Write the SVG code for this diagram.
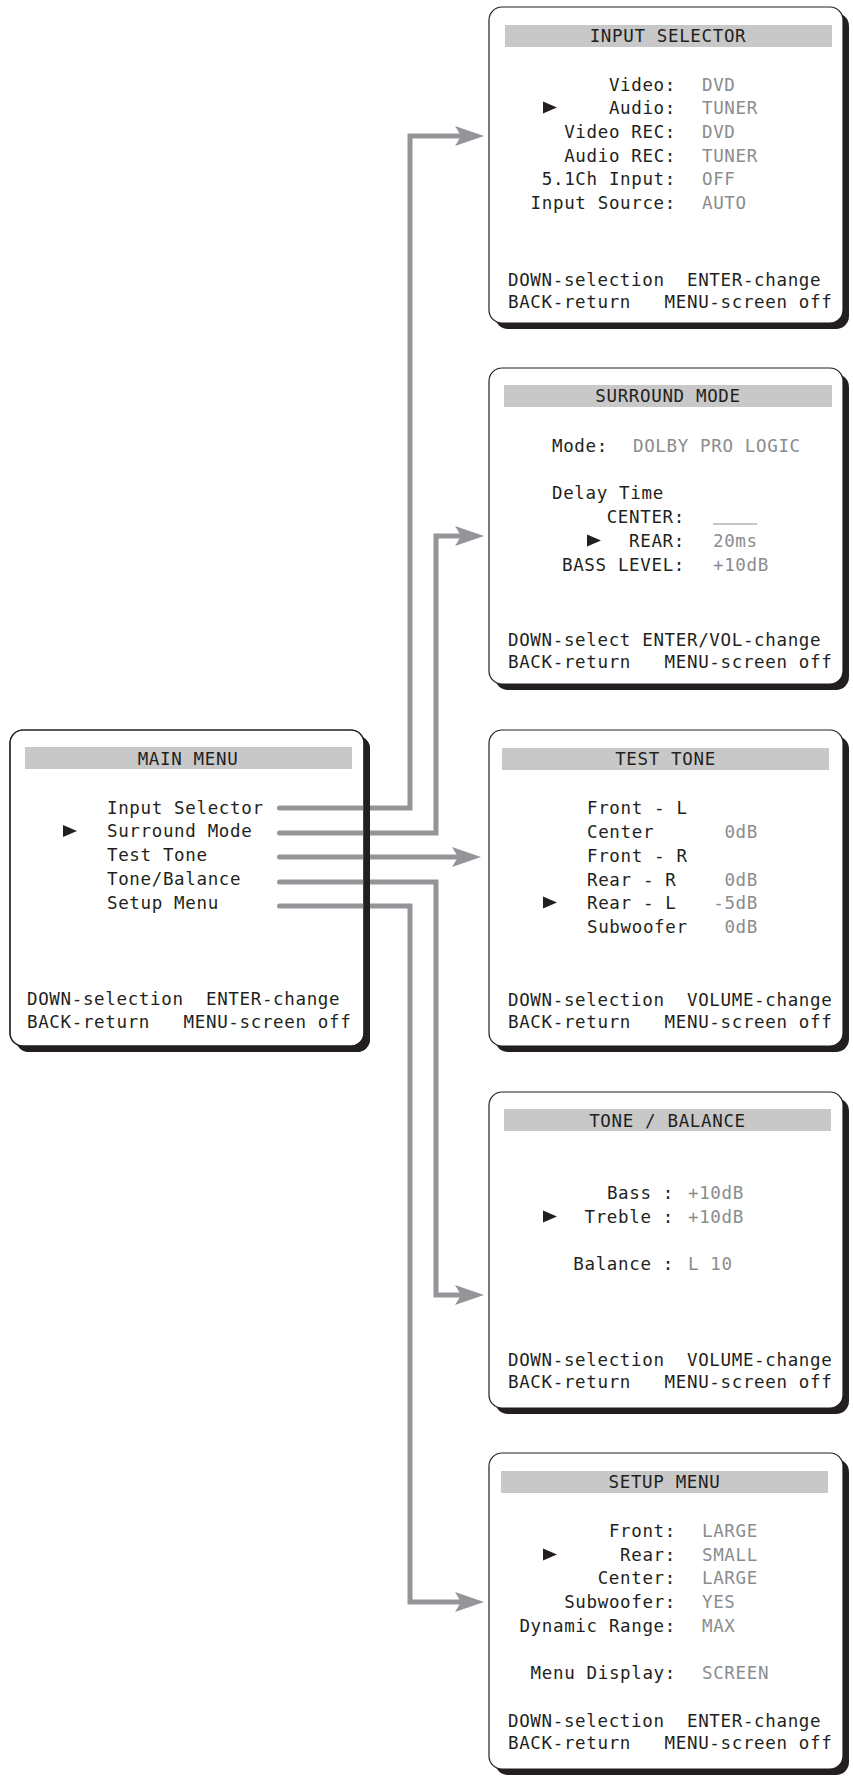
<svg xmlns="http://www.w3.org/2000/svg" xmlns:xlink="http://www.w3.org/1999/xlink" width="853" height="1777" viewBox="0 0 853 1777">
<style>
.shadow{fill:#231f20}
.panel{fill:#fff;stroke:#231f20;stroke-width:1.2}
.frame{fill:none;stroke:#231f20;stroke-width:1.2}
.bar{fill:#c8c8c8}
text{font-family:"DejaVu Sans Mono","Liberation Mono",monospace;font-size:17.5px;letter-spacing:0.65px;fill:#231f20}
.t{text-anchor:middle}
.r{text-anchor:end}
.v{fill:#8a8c8e}
.bullet{fill:#231f20}
.conn{fill:none;stroke:#939598;stroke-width:5;stroke-linecap:round;stroke-linejoin:miter;marker-end:url(#arrow)}
</style>
<defs>
<marker id="arrow" markerUnits="userSpaceOnUse" markerWidth="30" markerHeight="22" viewBox="0 0 30 22" refX="6" refY="11" orient="auto">
<path d="M0,1 L29,11 L0,21 L6,11 Z" fill="#939598"/>
</marker>
<path id="bul" d="M0,-6 L14,0 L0,6 Z"/>
<mask id="mainShadowMask" maskUnits="userSpaceOnUse" x="0" y="720" width="400" height="350">
<rect x="0" y="720" width="400" height="350" fill="#fff"/>
<rect x="10" y="730" width="354" height="316" rx="13" fill="#000"/>
</mask>
</defs>

<g id="main-menu">
<rect class="shadow" x="16" y="736" width="354" height="316" rx="13"/>
<rect class="panel" x="10" y="730" width="354" height="316" rx="13"/>
<rect class="bar" x="25" y="747" width="327" height="22"/>
<text class="t" x="188" y="765">MAIN MENU</text>
<use href="#bul" class="bullet" x="63" y="831"/>
<text x="107" y="814">Input Selector</text>
<text x="107" y="837">Surround Mode</text>
<text x="107" y="861">Test Tone</text>
<text x="107" y="885">Tone/Balance</text>
<text x="107" y="909">Setup Menu</text>
<text x="27" y="1005" xml:space="preserve">DOWN-selection  ENTER-change</text>
<text x="27" y="1028" xml:space="preserve">BACK-return   MENU-screen off</text>
</g>

<g id="input-selector">
<rect class="shadow" x="495" y="13" width="354" height="316" rx="13"/>
<rect class="panel" x="489" y="7" width="354" height="316" rx="13"/>
<rect class="bar" x="505" y="25" width="327" height="22"/>
<text class="t" x="668" y="42">INPUT SELECTOR</text>
<use href="#bul" class="bullet" x="543" y="107.5"/>
<text class="r" x="676" y="91">Video:</text>
<text class="r" x="676" y="114">Audio:</text>
<text class="r" x="676" y="138">Video REC:</text>
<text class="r" x="676" y="162">Audio REC:</text>
<text class="r" x="676" y="185">5.1Ch Input:</text>
<text class="r" x="676" y="209">Input Source:</text>
<text class="v" x="702" y="91">DVD</text>
<text class="v" x="702" y="114">TUNER</text>
<text class="v" x="702" y="138">DVD</text>
<text class="v" x="702" y="162">TUNER</text>
<text class="v" x="702" y="185">OFF</text>
<text class="v" x="702" y="209">AUTO</text>
<text x="508" y="286" xml:space="preserve">DOWN-selection  ENTER-change</text>
<text x="508" y="308" xml:space="preserve">BACK-return   MENU-screen off</text>
</g>

<g id="surround-mode">
<rect class="shadow" x="495" y="374" width="354" height="316" rx="13"/>
<rect class="panel" x="489" y="368" width="354" height="316" rx="13"/>
<rect class="bar" x="504" y="385" width="328" height="22"/>
<text class="t" x="668" y="402">SURROUND MODE</text>
<text x="552" y="452">Mode:</text>
<text class="v" x="633" y="452">DOLBY PRO LOGIC</text>
<text x="552" y="499">Delay Time</text>
<text class="r" x="685" y="523">CENTER:</text>
<line x1="713" y1="524" x2="757" y2="524" stroke="#8a8c8e" stroke-width="1"/>
<use href="#bul" class="bullet" x="587" y="540.5"/>
<text class="r" x="685" y="547">REAR:</text>
<text class="v" x="713" y="547">20ms</text>
<text class="r" x="685" y="571">BASS LEVEL:</text>
<text class="v" x="713" y="571">+10dB</text>
<text x="508" y="646">DOWN-select ENTER/VOL-change</text>
<text x="508" y="668" xml:space="preserve">BACK-return   MENU-screen off</text>
</g>

<g id="test-tone">
<rect class="shadow" x="495" y="736" width="354" height="316" rx="13"/>
<rect class="panel" x="489" y="730" width="354" height="316" rx="13"/>
<rect class="bar" x="502" y="748" width="327" height="22"/>
<text class="t" x="665.5" y="765">TEST TONE</text>
<use href="#bul" class="bullet" x="543" y="902.5"/>
<text x="587" y="814">Front - L</text>
<text x="587" y="838">Center</text>
<text x="587" y="862">Front - R</text>
<text x="587" y="886">Rear - R</text>
<text x="587" y="909">Rear - L</text>
<text x="587" y="933">Subwoofer</text>
<text class="v r" x="758" y="838">0dB</text>
<text class="v r" x="758" y="886">0dB</text>
<text class="v r" x="758" y="909">-5dB</text>
<text class="v r" x="758" y="933">0dB</text>
<text x="508" y="1006" xml:space="preserve">DOWN-selection  VOLUME-change</text>
<text x="508" y="1028" xml:space="preserve">BACK-return   MENU-screen off</text>
</g>

<g id="tone-balance">
<rect class="shadow" x="495" y="1098" width="354" height="316" rx="13"/>
<rect class="panel" x="489" y="1092" width="354" height="316" rx="13"/>
<rect class="bar" x="504" y="1109" width="327" height="22"/>
<text class="t" x="667.5" y="1127">TONE / BALANCE</text>
<use href="#bul" class="bullet" x="543" y="1216.5"/>
<text class="r" x="674" y="1199">Bass :</text>
<text class="r" x="674" y="1223">Treble :</text>
<text class="r" x="674" y="1270">Balance :</text>
<text class="v" x="688" y="1199">+10dB</text>
<text class="v" x="688" y="1223">+10dB</text>
<text class="v" x="688" y="1270">L 10</text>
<text x="508" y="1366" xml:space="preserve">DOWN-selection  VOLUME-change</text>
<text x="508" y="1388" xml:space="preserve">BACK-return   MENU-screen off</text>
</g>

<g id="setup-menu">
<rect class="shadow" x="495" y="1459" width="354" height="316" rx="13"/>
<rect class="panel" x="489" y="1453" width="354" height="316" rx="13"/>
<rect class="bar" x="501" y="1471" width="327" height="22"/>
<text class="t" x="664.5" y="1488">SETUP MENU</text>
<use href="#bul" class="bullet" x="543" y="1554.5"/>
<text class="r" x="676" y="1537">Front:</text>
<text class="r" x="676" y="1561">Rear:</text>
<text class="r" x="676" y="1584">Center:</text>
<text class="r" x="676" y="1608">Subwoofer:</text>
<text class="r" x="676" y="1632">Dynamic Range:</text>
<text class="r" x="676" y="1679">Menu Display:</text>
<text class="v" x="702" y="1537">LARGE</text>
<text class="v" x="702" y="1561">SMALL</text>
<text class="v" x="702" y="1584">LARGE</text>
<text class="v" x="702" y="1608">YES</text>
<text class="v" x="702" y="1632">MAX</text>
<text class="v" x="702" y="1679">SCREEN</text>
<text x="508" y="1727" xml:space="preserve">DOWN-selection  ENTER-change</text>
<text x="508" y="1749" xml:space="preserve">BACK-return   MENU-screen off</text>
</g>

<g id="connectors">
<path class="conn" d="M279.5,808 H410 V136 H461"/>
<path class="conn" d="M279.5,833 H436 V536 H461"/>
<path class="conn" d="M279.5,857 H458"/>
<path class="conn" d="M279.5,882 H436 V1295 H461"/>
<path class="conn" d="M279.5,906 H410 V1602 H461"/>
</g>

<g id="main-menu-edge">
<rect class="shadow" x="16" y="736" width="354" height="316" rx="13" mask="url(#mainShadowMask)"/>
<rect class="frame" x="10" y="730" width="354" height="316" rx="13"/>
</g>
</svg>
